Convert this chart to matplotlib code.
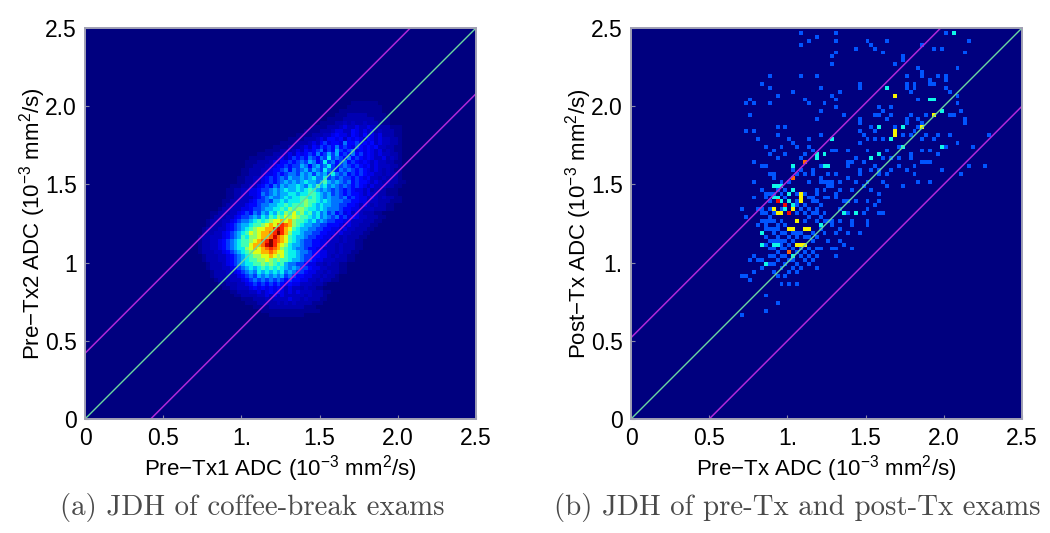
import matplotlib
matplotlib.use("Agg")
import matplotlib.pyplot as plt
import numpy as np

plt.rcParams['font.family'] = ['Liberation Sans', 'DejaVu Sans']
plt.rcParams['mathtext.fontset'] = 'custom'
plt.rcParams['mathtext.rm'] = 'Liberation Sans'
plt.rcParams['mathtext.default'] = 'rm'

BIN = 0.025
N_BINS = 100

TICKS = [0, 0.5, 1, 1.5, 2.0, 2.5]
XTICK_LABELS = ['0', '0.5', '1.', '1.5', '2.0', '2.5']
YTICK_LABELS_A = ['0', '0.5', '1', '1.5', '2.0', '2.5']
YTICK_LABELS_B = ['0', '0.5', '1.', '1.5', '2.0', '2.5']

OFFSETS_A = [0.42, -0.42]
OFFSETS_B = [0.52, -0.5]

# panel (a): colour level per bin, read by eye. First string is row 81,
# first character of every string is column 22. Missing characters = empty.
LEVEL_KEYS = ".-+123456789abcdef"
LEVEL_VALUES = [0, .02, .045, .06, .09, .13, .18, .24, .3, .36, .43, .52, .62, .72, .8, .87, .93, 1]
A_FIRST_ROW = 81
A_FIRST_COL = 22
A_ROWS = [
    "............................................................",
    "..............................................-------.......",
    ".............................................---------......",
    "...........................................-----------......",
    "..........................................---+++++-----.....",
    "........................................----++++++++----....",
    "......................................----++1+1++1+++---....",
    "....................................----+++1211211211+++---.",
    "..................................----+++12211321212+1+++--.",
    "................................----+++112322132131212+++--.",
    "..............................----+++1213323132321321211++-.",
    "............................----+++121342332533423231211++-.",
    "..........................----+++1213243435343243232311++--.",
    "........................----+++12132345243643452323212+1+--.",
    "......................----+++121323435346463435342321211++-.",
    "....................----+++1212434354354745435343232112+1+-.",
    "...................---+++121334345465347453453432321211++--.",
    "...................--+++11233434465356457434543432312111++-.",
    "..................--+++1123345354564654754354543432121+1+--.",
    "..................--+++1223434554656465647545343432211+1++-.",
    ".................--++11234345465565675574545443432311+1+++-.",
    ".................--++112343456565676656865654534332121+1++--",
    "...............---++11234354656676576867565454343212111++--.",
    "..............--++112234456567667678765654543432212+1++---..",
    "..............--++11223545656677677887656454343321211++---..",
    "..............--++11123456556767788787656554534322121+1++--",
    ".............--++111234454667677789887676555443322111+++---",
    ".............-++11123345566778788898767665544332121+1++--",
    "............-++1112234456677879899877676555433221111+++--",
    "..........--+++1123435465768798a89786756453423121+++--",
    "..........-+++112344565768798a9a988767565453423211+++--",
    ".........-+++1123455678789aabab988767565443322111+++--",
    ".........-+++12345667889abacdcb98766554433321211+++--",
    "........-+++1123456789aabbdedba8766554433221211+++--",
    "........-++112345678a9abbcdfdb9776554433221211+++--",
    ".......-++111234568799abbcecba8766544332211+1+++--",
    ".......-++11234567889abcdfdcba8765443322111+1++--",
    ".......-++1123456788abbcefdba9766544332211+1+++--",
    ".......-++1123456779ababcdcb98765543322111+1+++--",
    ".......-+++1123456789aabbcbaa8776554332211+1++--",
    "........-+++11234567899aaba9a877654433221+1++--",
    "........-+++112345678899a98988766544322111+++--",
    ".........-+++1234567788989878655443 2211+1++--".replace(' ', ''),
    ".........-+++112345676787878765654432211+++--",
    "..........-+++1123456576767675654432211+1++--",
    "..........-+++111234546565656454332211+1++-",
    "...........-+++11123454545454343322 11+1++--".replace(' ', ''),
    "............--+++11234343434323221 11+++-".replace(' ', ''),
    ".............--++1112323232321211+1++--",
    "...............--+++1121232321212111+++--",
    "................--++++112121211111+1+++-",
    "..................---+++1+1111211+1+++--",
    "...................---+++++1+1+1++++---",
    ".....................----+++++++++---",
    ".......................---------------",
    ".........................---------",
]

# panel (b): occupied bins as (column, row), one list per count
B_COUNT1 = [
    (43,98),(52,98),(80,98),(45,96),(47,97),(43,95),(52,96),(60,96),(61,95),(65,96),(57,94),(62,94),
    (64,93),(74,95),(77,94),(79,94),(86,96),(85,93),(52,93),(51,92),(51,90),(69,92),(69,91),(67,90),
    (83,89),(73,89),(74,88),(74,87),(70,87),(33,85),(35,87),(35,84),(43,87),(47,87),(41,83),(37,82),
    (48,84),(51,82),(53,83),(52,81),(44,81),(45,80),(49,80),(52,79),(48,78),(29,80),(30,81),(31,80),
    (35,80),(30,77),(47,76),(54,77),(37,74),(39,74),(29,73),(31,73),(37,72),(32,71),(45,71),(48,72),
    (58,85),(58,84),(70,84),(70,85),(71,83),(72,85),(72,84),(76,86),(76,85),(77,85),(78,87),(80,87),
    (80,86),(80,84),(81,83),(73,81),(83,82),(83,80),(84,78),(82,77),(85,76),(85,75),(81,77),(61,74),
    (62,73),(70,76),(70,75),(71,77),(73,76),(74,75),(75,77),(72,73),(73,74),(71,72),(69,72),(74,71),
    (77,71),(75,72),(78,72),(81,72),(83,70),(87,69),(91,72),(86,64),(90,64),(84,62),(60,68),(65,68),
    (68,69),(71,67),(71,66),(75,65),(76,65),(74,65),(72,64),(66,63),(62,64),(63,63),(64,60),(65,59),
    (60,60),(59,59),(55,65),(55,64),(56,65),(55,68),(52,68),(51,68),(45,69),(46,68),(44,67),(43,66),
    (58,76),(58,75),(58,73),(62,77),(63,79),(64,78),(63,77),(65,76),(66,79),(66,77),(67,74),(64,71),
    (62,71),(60,71),(59,72),(58,70),(57,66),(59,65),(61,63),(64,66),(66,66),(68,66),(68,64),(70,63),
    (72,62),(73,60),(74,68),(76,68),(78,67),(80,69),(79,63),(76,60),(69,59),(65,62),(63,62),(58,63),
    (58,62),(57,60),(55,61),(56,58),(53,60),(52,62),(50,62),(49,60),(48,64),(48,60),(52,57),(50,56),
    (47,55),(55,55),(53,53),(38,69),(39,67),(37,66),(36,68),(35,67),(34,69),(33,64),(31,65),(40,71),
    (41,70),(42,69),(34,64),(36,62),(36,61),(35,62),(31,60),(41,63),(42,62),(44,62),(43,63),(46,63),
    (46,62),(45,60),(48,61),(47,58),(47,57),(49,58),(50,60),(51,60),(51,59),(50,59),(49,56),(53,58),
    (52,56),(54,55),(35,55),(34,57),(33,58),(31,56),(28,53),(29,51),(32,53),(34,52),(35,51),(33,50),
    (32,49),(34,49),(35,48),(36,47),(38,50),(39,49),(38,47),(37,46),(34,46),(35,45),(39,45),(41,45),
    (42,46),(43,47),(44,50),(45,51),(45,53),(46,52),(44,54),(43,53),(47,52),(47,50),(48,48),(49,47),
    (47,46),(46,45),(45,43),(47,43),(46,42),(43,41),(44,40),(37,42),(38,41),(36,41),(39,39),(38,38),
    (40,37),(39,36),(35,41),(33,40),(32,40),(31,41),(30,40),(33,38),(31,37),(29,36),(28,36),(30,35),
    (37,36),(36,37),(42,39),(43,38),(45,39),(46,40),(47,41),(47,38),(48,43),(51,43),(52,43),(54,44),
    (50,45),(52,47),(53,48),(55,47),(51,50),(51,49),(50,50),(53,50),(56,50),(56,49),(58,47),(60,50),
    (60,49),(59,52),(60,53),(63,52),(64,52),(62,54),(63,55),(63,57),(60,55),(55,52),(57,55),(61,58),
    (53,45),(56,43),(52,41),(38,34),(40,34),(42,34),(34,31),(37,29),(34,27),(28,26),
    # denser part of the lower cloud
    (34,56),(35,57),(38,57),(39,58),(40,60),(38,60),(42,57),(44,57),(45,56),(46,56),(46,55),(40,52),
    (38,53),(36,52),(35,53),(33,53),(33,52),(34,50),(35,50),(36,50),(37,49),(37,48),(36,48),(34,48),
    (39,47),(40,46),(41,47),(42,47),(38,45),(37,45),(36,45),(34,44),(38,44),(39,43),(40,44),(38,43),
    (36,43),(35,43),(41,43),(42,42),(43,43),(44,42),(45,41),(41,40),(40,40),(39,41),(37,40),(36,39),
    (35,39),(42,37),(41,38),(46,47),(45,46),(44,46),(44,52),(42,52),(42,54),(42,55),(39,56),(37,58),
    (36,57),(48,54),(47,53),(49,52),(48,51),(49,50),
]
B_COUNT2 = [
    (82,98),(65,84),(77,81),(76,81),(79,78),(61,66),(63,67),(69,69),(66,71),(69,74),(63,74),(79,69),
    (47,67),(49,67),(50,64),(49,64),(47,66),(51,71),(41,64),(37,59),(38,59),(36,59),(40,57),(36,56),
    (37,56),(40,55),(41,54),(34,39),(33,47),(33,44),(54,52),(57,52),(48,49),(36,44),(37,44),(41,41),
    (41,58),(39,53),(38,55),
]
B_COUNT3 = [(67,82),(77,77),(74,74),(67,72),(67,73),(43,56),(43,55),(36,53),(37,52),(38,52),(42,50),
            (41,53),(40,48),(41,48),(44,48),(45,48),(42,44),(43,44),(44,44),(43,57)]
B_COUNT4 = [(44,65),(41,61),(40,42)]
B_COUNT5 = [(37,55),(39,54),(40,52)]
B_COUNT_LEVELS = [.21, .37, .65, .8, .9]


def panel_a_grid():
    grid = np.zeros((N_BINS, N_BINS))
    lookup = dict(zip(LEVEL_KEYS, LEVEL_VALUES))
    for i, text in enumerate(A_ROWS):
        for j, ch in enumerate(text):
            grid[A_FIRST_ROW - i, A_FIRST_COL + j] = lookup[ch]
    return grid


def panel_b_grid():
    grid = np.zeros((N_BINS, N_BINS))
    all_cells = [B_COUNT1, B_COUNT2, B_COUNT3, B_COUNT4, B_COUNT5]
    for level, cells in zip(B_COUNT_LEVELS, all_cells):
        for col, row in cells:
            grid[row, col] = level
    return grid


def draw_panel(rect, grid, offsets, xlabel, ylabel, ylabels):
    ax = fig.add_axes(rect)
    ax.imshow(grid, origin='lower', extent=[0, N_BINS * BIN, 0, N_BINS * BIN],
              cmap='jet', vmin=0, vmax=1, interpolation='nearest', aspect='auto')
    line_x = np.array([0, 2.5])
    ax.plot(line_x, line_x, color='#6ad8a0', lw=1)
    for off in offsets:
        ax.plot(line_x, line_x + off, color='#b028d8', lw=1.1)
    ax.set_xlim(0, 2.5)
    ax.set_ylim(0, 2.5)
    ax.set_xticks(TICKS, XTICK_LABELS, fontsize=16.5)
    ax.set_yticks(TICKS, ylabels, fontsize=16.5)
    ax.tick_params(direction='in', length=3, width=0.8, color='#8888a8', pad=6)
    ax.set_xlabel(xlabel, fontsize=16, labelpad=2)
    ax.set_ylabel(ylabel, fontsize=16, labelpad=-2)
    for sp in ax.spines.values():
        sp.set_color('#a0a0b4')
        sp.set_linewidth(1.4)
    return ax


W, H = 1050, 533
fig = plt.figure(figsize=(W / 100, H / 100), dpi=100)

draw_panel([85 / W, 1 - 419 / H, 391 / W, 391 / H], panel_a_grid(), OFFSETS_A,
           r'Pre$-$Tx1 ADC (10$^{-3}$ mm$^2$/s)', r'Pre$-$Tx2 ADC (10$^{-3}$ mm$^2$/s)', YTICK_LABELS_A)
draw_panel([631 / W, 1 - 419 / H, 391 / W, 391 / H], panel_b_grid(), OFFSETS_B,
           r'Pre$-$Tx ADC (10$^{-3}$ mm$^2$/s)', r'Post$-$Tx ADC (10$^{-3}$ mm$^2$/s)', YTICK_LABELS_B)

caption_font = ['cmr10', 'Liberation Serif']
fig.text(252 / W, 1 - 508 / H, '(a) JDH of coffee-break exams', ha='center', va='center',
         fontsize=20.8, color='#4a4a4a', family=caption_font)
fig.text(797 / W, 1 - 508 / H, '(b) JDH of pre-Tx and post-Tx exams', ha='center', va='center',
         fontsize=20.8, color='#4a4a4a', family=caption_font)

fig.savefig('out.png', dpi=100)
